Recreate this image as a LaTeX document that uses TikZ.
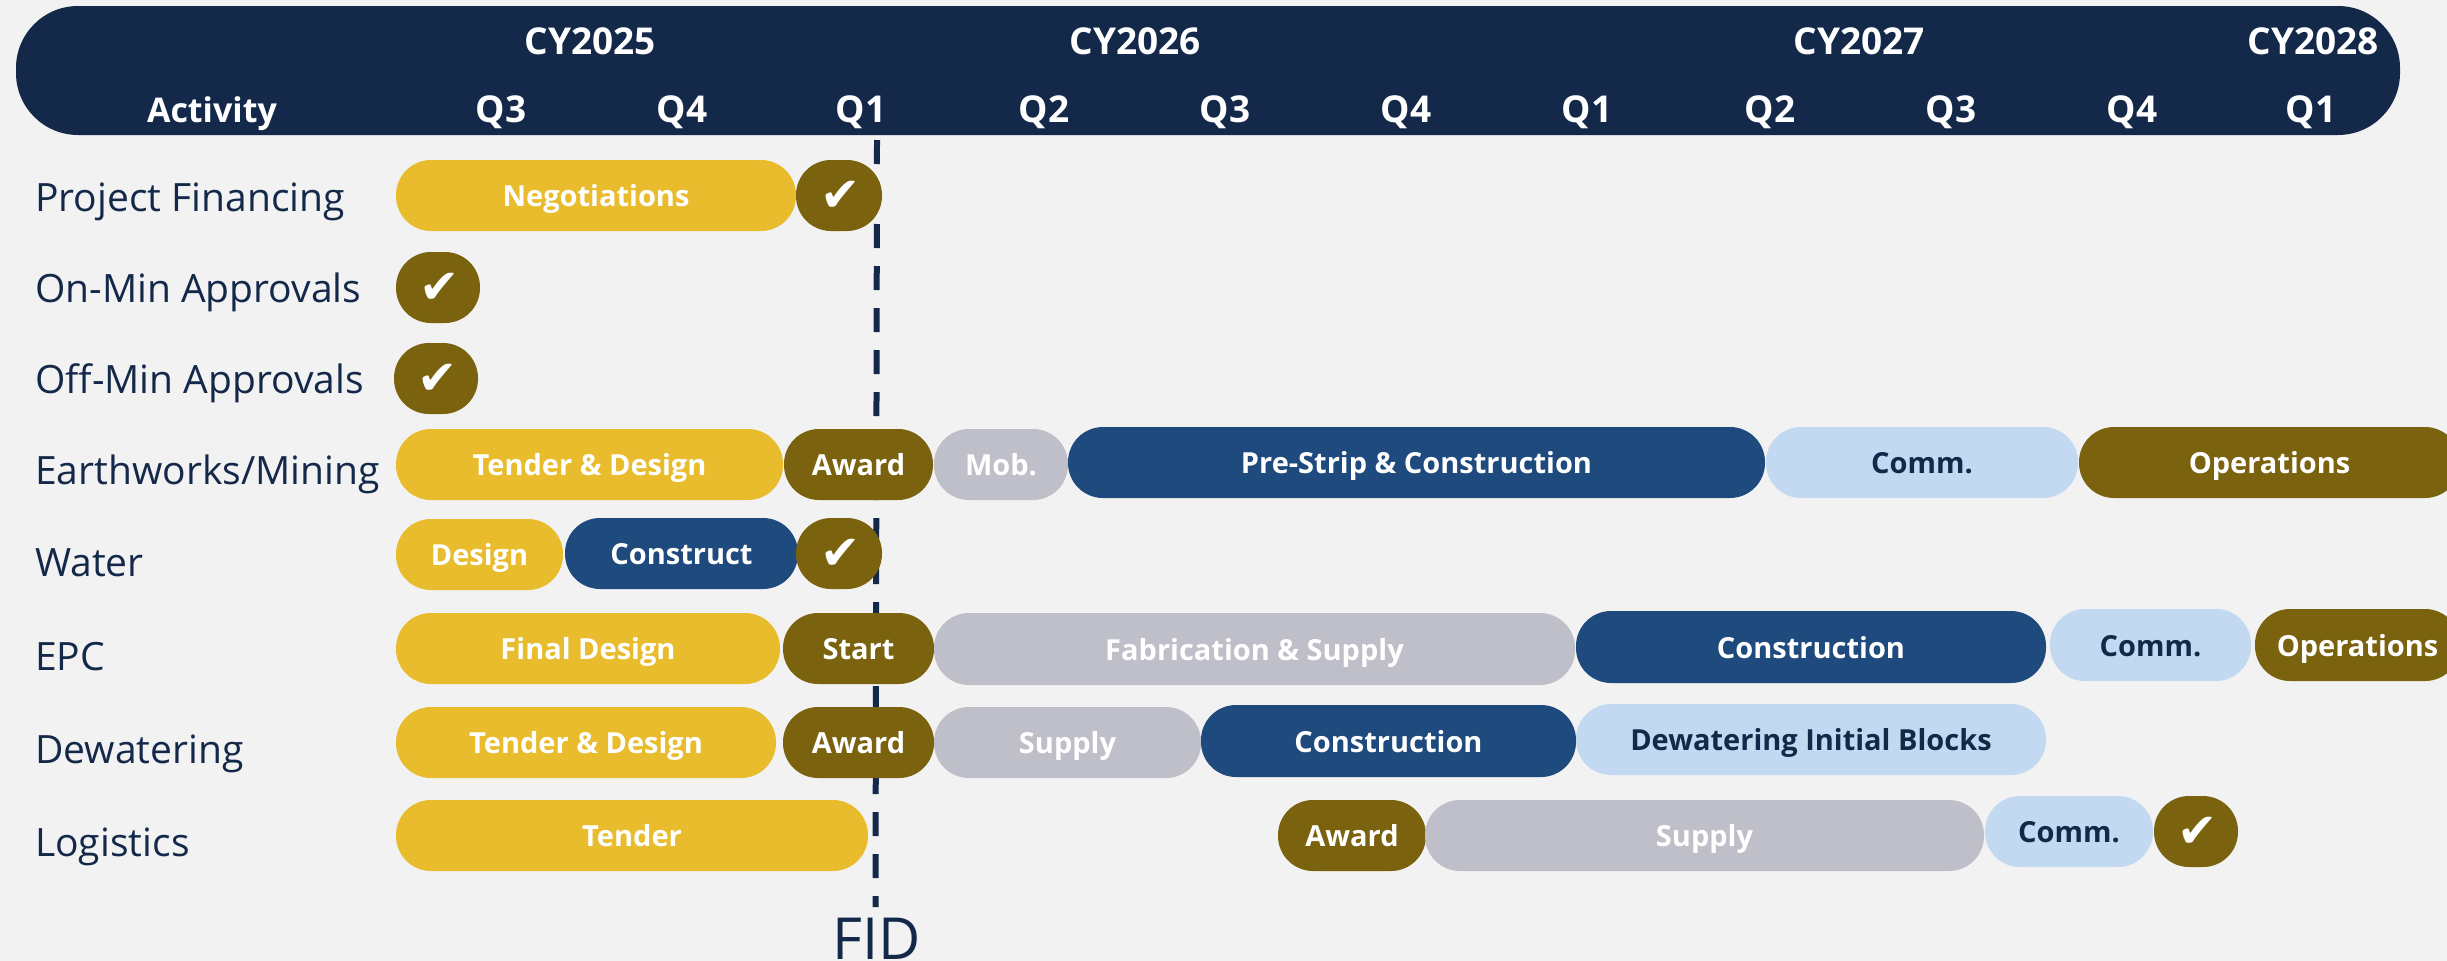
\documentclass[tikz,border=0pt]{standalone}
\usepackage{fontspec}
\setmainfont{Open Sans}
\newfontfamily\checkfont{DejaVu Sans}
\definecolor{bg}{HTML}{F2F2F2}
\definecolor{navy}{HTML}{14294A}
\definecolor{gold}{HTML}{E8BC2C}
\definecolor{brownish}{HTML}{7B620F}
\definecolor{midblue}{HTML}{1F4A7D}
\definecolor{paleblue}{HTML}{C3D9F1}
\definecolor{greyish}{HTML}{BEBFC8}
\tikzset{
  x=1pt,y=-1pt,
  pill/.style={rounded corners=35pt,inner sep=0pt,outer sep=0pt,text height=22pt,text depth=0pt,font=\fontsize{29}{36}\selectfont\bfseries,align=center},
  goldpill/.style={pill,fill=gold,text=white},
  brownpill/.style={pill,fill=brownish,text=white},
  bluepill/.style={pill,fill=midblue,text=white},
  palepill/.style={pill,fill=paleblue,text=navy},
  greypill/.style={pill,fill=greyish,text=white},
  rowlabel/.style={anchor=base west,text=navy,inner sep=0pt,font=\fontsize{39}{44}\selectfont},
  headtext/.style={anchor=base,text=white,inner sep=0pt,font=\fontsize{37}{40}\selectfont\bfseries},
  fidline/.style={draw=navy,line width=6pt,dash pattern=on 24pt off 18pt},
}
\newcommand{\pillat}[7]{%
  \pgfmathsetmacro{\pw}{#4-#3}\pgfmathsetmacro{\ph}{#6-#5}%
  \node[#2,minimum width=\pw pt,minimum height=\ph pt] (#1) at ({(#3+#4)/2},{(#5+#6)/2}) {#7};}
\newcommand{\chk}{{\checkfont\mdseries\fontsize{48}{50}\selectfont\hspace*{3pt}\raisebox{-5pt}{✔}}}
\begin{document}
\begin{tikzpicture}
\useasboundingbox (0,0) rectangle (2447,961);
\clip (0,0) rectangle (2447,961);
\fill[bg] (0,0) rectangle (2447,961);
\fill[navy,rounded corners=62pt] (16,6) rectangle (2400,135);
% header
\node[headtext] (cy25) at (590,54) {CY2025};
\node[headtext] (cy26) at (1135,54) {CY2026};
\node[headtext] (cy27) at (1859,54) {CY2027};
\node[headtext] (cy28) at (2313,54) {CY2028};
\node[headtext,font=\fontsize{34}{40}\selectfont\bfseries] (act) at (212,122) {Activity};
\node[headtext] (q1) at (501,122) {Q3};
\node[headtext] (q2) at (682,122) {Q4};
\node[headtext] (q3) at (861,122) {Q1};
\node[headtext] (q4) at (1044,122) {Q2};
\node[headtext] (q5) at (1225,122) {Q3};
\node[headtext] (q6) at (1406,122) {Q4};
\node[headtext] (q7) at (1587,122) {Q1};
\node[headtext] (q8) at (1770,122) {Q2};
\node[headtext] (q9) at (1951,122) {Q3};
\node[headtext] (q10) at (2132,122) {Q4};
\node[headtext] (q11) at (2311,122) {Q1};
% row labels
\node[rowlabel] (l1) at (35,211) {Project Financing};
\node[rowlabel] (l2) at (35,302) {On-Min Approvals};
\node[rowlabel] (l3) at (35,393) {Off-Min Approvals};
\node[rowlabel] (l4) at (35,484) {Earthworks/Mining};
\node[rowlabel] (l5) at (35,576) {Water};
\node[rowlabel] (l6) at (35,670) {EPC};
\node[rowlabel] (l7) at (35,763) {Dewatering};
\node[rowlabel] (l8) at (35,856) {Logistics};
% FID
\node[anchor=base,text=navy,inner sep=0pt,font=\fontsize{58}{62}\selectfont] (fid) at (877,959.5) {FID};
\coordinate (fidtop) at (877,140);
\coordinate (fidend) at (875.5,907);
\draw[fidline] (fidtop) -- (fidend);
% row 1
\pillat{a1}{goldpill}{396}{796}{160}{231}{Negotiations}
\pillat{a2}{brownpill}{796}{882}{160}{231}{\chk}
\pillat{b1}{brownpill}{396}{480}{252}{323}{\chk}
\pillat{c1}{brownpill}{394}{478}{343}{414}{\chk}
% earthworks
\pillat{d1}{goldpill}{396}{783}{429}{500}{Tender \& Design}
\pillat{d2}{brownpill}{784}{933}{429}{500}{Award}
\pillat{d3}{greypill}{934}{1068}{429}{500}{Mob.}
\pillat{d4}{bluepill}{1068}{1765}{427}{498}{Pre-Strip \& Construction}
\pillat{d5}{palepill}{1766}{2078}{427}{498}{Comm.}
\pillat{d6}{brownpill}{2079}{2460}{427}{498}{Operations}
% water
\pillat{e1}{goldpill}{396}{563}{519}{590}{Design}
\pillat{e2}{bluepill}{565}{798}{518}{589}{Construct}
\pillat{e3}{brownpill}{796}{882}{518}{589}{\chk}
% EPC
\pillat{f1}{goldpill}{396}{780}{613}{684}{Final Design}
\pillat{f2}{brownpill}{783}{934}{613}{684}{Start}
\pillat{f3}{greypill}{934}{1575}{613}{685}{Fabrication \& Supply}
\pillat{f4}{bluepill}{1576}{2046}{611}{683}{Construction}
\pillat{f5}{palepill}{2050}{2251}{609}{681}{Comm.}
\pillat{f6}{brownpill}{2255}{2460}{609}{681}{Operations}
% dewatering
\pillat{g1}{goldpill}{396}{776}{707}{778}{Tender \& Design}
\pillat{g2}{brownpill}{783}{934}{707}{778}{Award}
\pillat{g3}{greypill}{934}{1201}{707}{778}{Supply}
\pillat{g4}{bluepill}{1201}{1576}{705}{777}{Construction}
\pillat{g5}{palepill}{1576}{2046}{704}{775}{Dewatering Initial Blocks}
% logistics
\pillat{h1}{goldpill}{396}{868}{800}{871}{Tender}
\pillat{h2}{brownpill}{1278}{1426}{800}{871}{Award}
\pillat{h3}{greypill}{1425}{1984}{800}{871}{Supply}
\pillat{h4}{palepill}{1985}{2153}{796}{867}{Comm.}
\pillat{h5}{brownpill}{2154}{2238}{796}{867}{\chk}
\end{tikzpicture}
\end{document}
